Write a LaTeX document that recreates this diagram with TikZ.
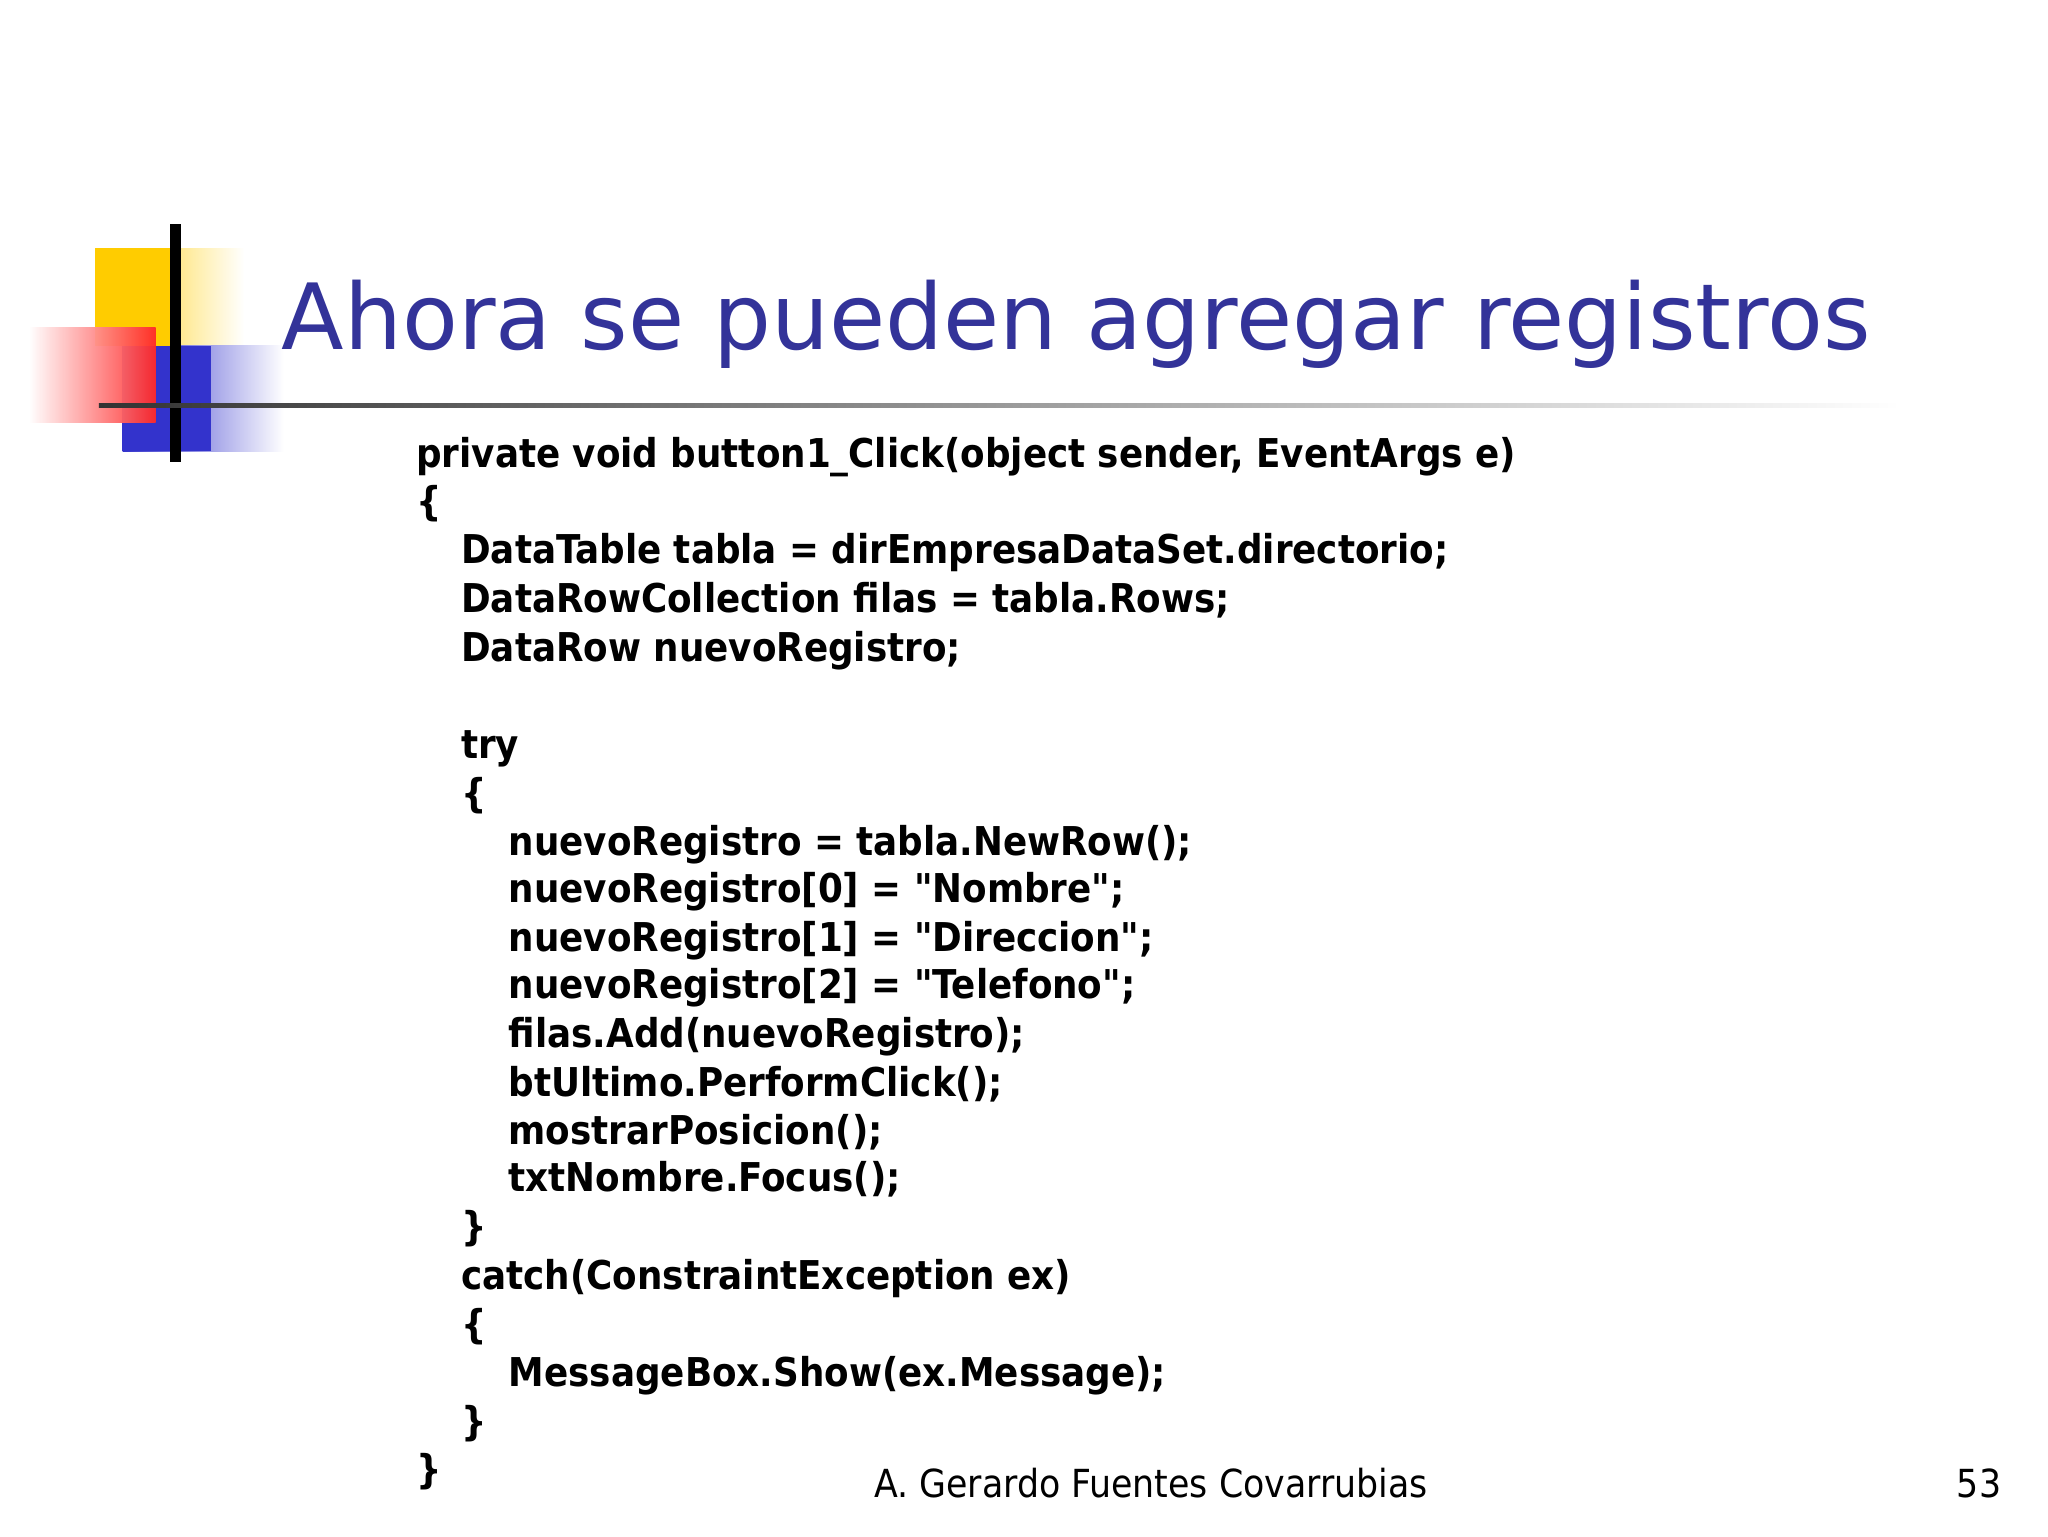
\documentclass[tikz,border=0pt]{standalone}
\usepackage{fontspec}
\setmainfont{DejaVu Sans}
\newfontfamily\condfont{DejaVu Sans Condensed}
\newcommand{\dq}{\symbol{34}}
\definecolor{titleblue}{RGB}{51,51,153}
\definecolor{ylw}{RGB}{255,204,0}
\definecolor{rd}{RGB}{255,40,40}
\definecolor{blu}{RGB}{51,51,204}
\begin{document}
\begin{tikzpicture}[x=0.013196cm,y=-0.013196cm,
  code/.style={anchor=base west,inner sep=0pt,font=\condfont\fontsize{11.3}{14}\selectfont\bfseries}]
\useasboundingbox (0,0) rectangle (1552,1164);
\fill[white] (0,0) rectangle (1552,1164);
% logo
\shade[left color=ylw,right color=white] (72,188) rectangle (185,262);
\shade[left color=blu,right color=white] (93,262) rectangle (215,342);
\fill[ylw] (72,188) rectangle (135,262);
\fill[blu] (93,262) rectangle (160,342);
\shade[left color=white,right color=rd,opacity=0.95] (22,248) rectangle (118,320);
\draw[line width=3pt] (133,170) -- (133,350);
\shade[left color=black!80,right color=white] (75,305.5) rectangle (1440,309);
% title
\node[anchor=base west,inner sep=0pt,text=titleblue,font=\fontsize{26}{30}\selectfont] (title) at (213,265) {Ahora se pueden agregar registros};
% code
\node[code] (l1) at (315,354) {private void button1\_Click(object sender, EventArgs e)};
\node[code] (l2) at (315,391) {\{};
\node[code] (l3) at (349,427) {DataTable tabla = dirEmpresaDataSet.directorio;};
\node[code] (l4) at (349,464) {DataRowCollection filas = tabla.Rows;};
\node[code] (l5) at (349,501) {DataRow nuevoRegistro;};
\node[code] (l6) at (349,575) {try};
\node[code] (l7) at (349,612) {\{};
\node[code] (l8) at (385,648) {nuevoRegistro = tabla.NewRow();};
\node[code] (l9) at (385,684) {nuevoRegistro[0] = \dq Nombre\dq;};
\node[code] (l10) at (385,721) {nuevoRegistro[1] = \dq Direccion\dq;};
\node[code] (l11) at (385,757) {nuevoRegistro[2] = \dq Telefono\dq;};
\node[code] (l12) at (385,794) {filas.Add(nuevoRegistro);};
\node[code] (l13) at (385,831) {btUltimo.PerformClick();};
\node[code] (l14) at (385,867) {mostrarPosicion();};
\node[code] (l15) at (385,903) {txtNombre.Focus();};
\node[code] (l16) at (349,940) {\}};
\node[code] (l17) at (349,977) {catch(ConstraintException ex)};
\node[code] (l18) at (349,1014) {\{};
\node[code] (l19) at (385,1051) {MessageBox.Show(ex.Message);};
\node[code] (l20) at (349,1088) {\}};
\node[code] (l21) at (315,1124) {\}};
% footer
\node[anchor=base west,inner sep=0pt,font=\condfont\fontsize{11}{14}\selectfont] (author) at (662,1135) {A. Gerardo Fuentes Covarrubias};
\node[anchor=base east,inner sep=0pt,font=\condfont\fontsize{11}{14}\selectfont] (page) at (1517,1135) {53};
\end{tikzpicture}
\end{document}
